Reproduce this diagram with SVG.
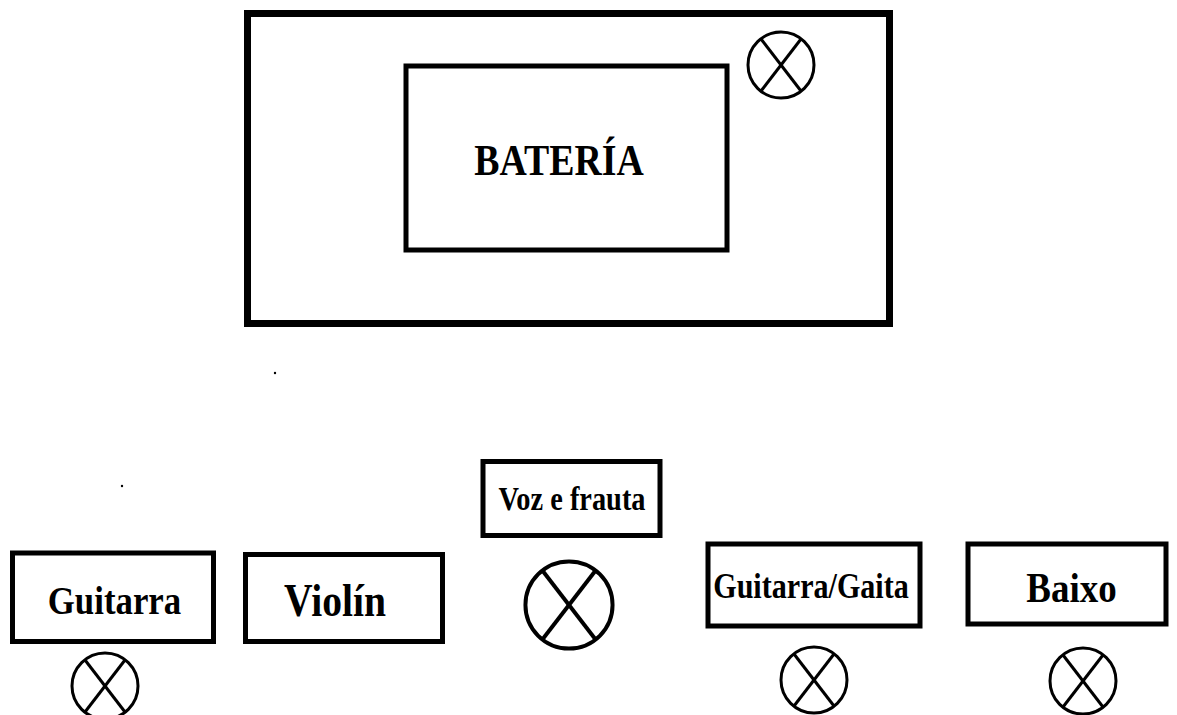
<svg xmlns="http://www.w3.org/2000/svg" width="1177" height="715" viewBox="0 0 1177 715">
<style>
.box{fill:none;stroke:#000;stroke-width:5}
.lbl{font-family:"Liberation Serif","Times New Roman",serif;font-weight:bold;fill:#000;text-anchor:middle}
.mic{fill:none;stroke:#000;stroke-width:3}
</style>
<defs>
<g id="micx">
<circle cx="0" cy="0" r="33" class="mic"/>
<line x1="-20" y1="-26" x2="20" y2="26" class="mic"/>
<line x1="20" y1="-26" x2="-20" y2="26" class="mic"/>
</g>
</defs>
<rect width="1177" height="715" fill="#fff"/>
<g id="stage">
<rect x="247.5" y="13.5" width="642" height="310" fill="none" stroke="#000" stroke-width="7"/>
</g>
<g id="bateria">
<rect x="406" y="66" width="321" height="184" class="box" stroke-width="4"/>
<text transform="translate(559,175) scale(0.86,1)" class="lbl" font-size="44">BATERÍA</text>
</g>
<g id="mic-bateria"><use href="#micx" transform="translate(781,65)"/></g>
<g id="dots">
<circle cx="275" cy="373" r="1.2" fill="#000"/>
<circle cx="122" cy="486" r="1.2" fill="#000"/>
</g>
<g id="guitarra">
<rect x="12.5" y="553" width="201" height="88.5" class="box"/>
<text transform="translate(114.5,614) scale(0.86,1)" class="lbl" font-size="40.5">Guitarra</text>
</g>
<g id="mic-guitarra"><use href="#micx" transform="translate(105,686)"/></g>
<g id="violin">
<rect x="245.5" y="554.5" width="197" height="87" class="box"/>
<text transform="translate(335,616) scale(0.86,1)" class="lbl" font-size="46">Violín</text>
</g>
<g id="voz">
<rect x="483" y="461.5" width="177" height="74" class="box" stroke-width="4.5"/>
<text transform="translate(572,510) scale(0.86,1)" class="lbl" font-size="33">Voz e frauta</text>
</g>
<g id="mic-voz"><use href="#micx" transform="translate(569,605) scale(1.32)"/></g>
<g id="guitarra-gaita">
<rect x="708" y="544" width="212" height="82" class="box" stroke-width="4.5"/>
<text transform="translate(811,598) scale(0.86,1)" class="lbl" font-size="35">Guitarra/Gaita</text>
</g>
<g id="mic-gg"><use href="#micx" transform="translate(814,680)"/></g>
<g id="baixo">
<rect x="968" y="544" width="198" height="80" class="box" stroke-width="4.5"/>
<text transform="translate(1071.5,602) scale(0.86,1)" class="lbl" font-size="43">Baixo</text>
</g>
<g id="mic-baixo"><use href="#micx" transform="translate(1083,681)"/></g>
<g id="connectors"/>
</svg>
